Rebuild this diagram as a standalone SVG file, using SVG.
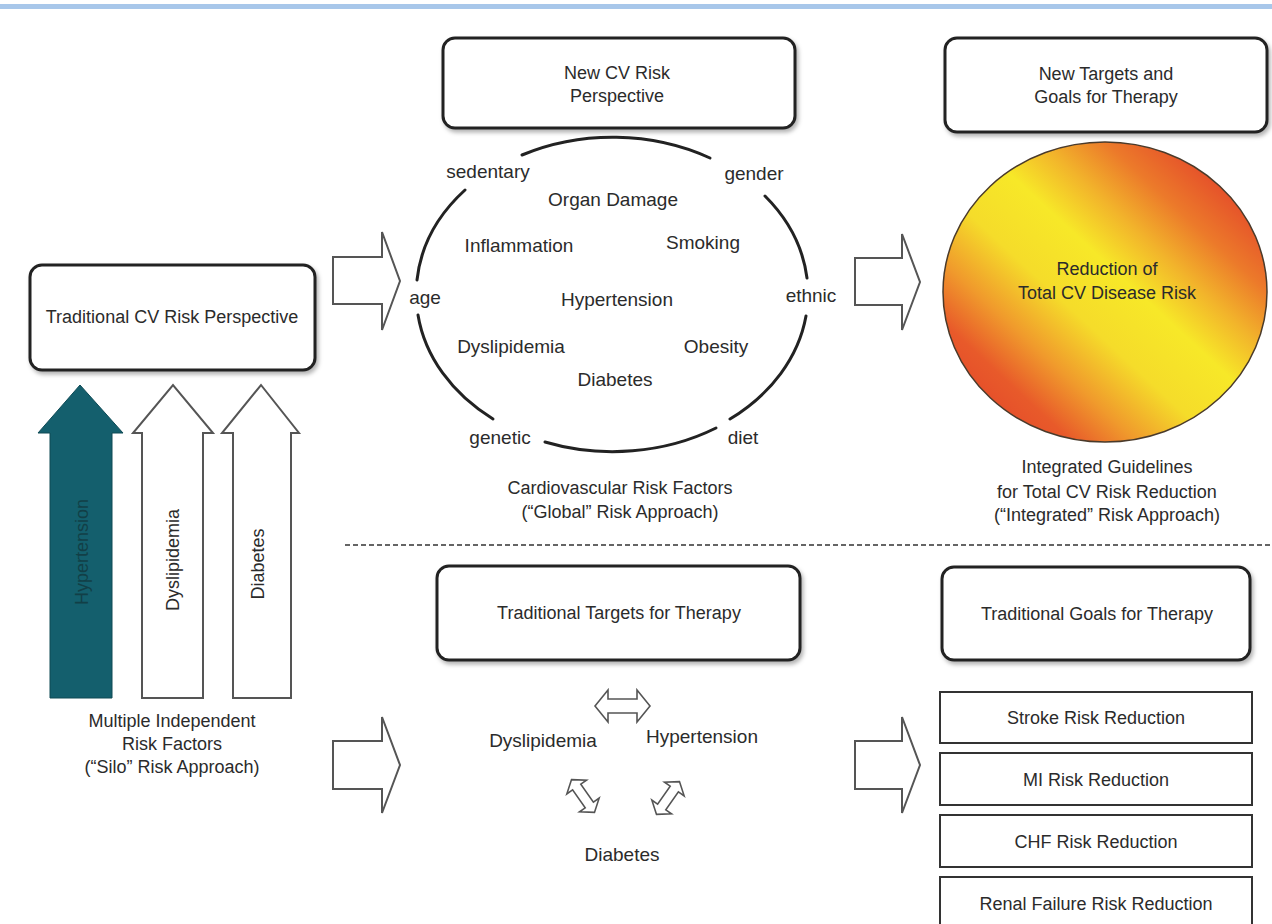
<svg xmlns="http://www.w3.org/2000/svg" width="1272" height="924" viewBox="0 0 1272 924">
<style>
text{font-family:"Liberation Sans",Arial,sans-serif;fill:#2b2b2b;font-size:18px;text-anchor:middle}
.big{font-size:19px}
.rbox{fill:#fff;stroke:#222;stroke-width:3;filter:url(#sh)}
.sbox{fill:#fff;stroke:#333;stroke-width:2}
.blk{fill:#fff;stroke:#555;stroke-width:2;stroke-linejoin:miter}
.arc{fill:none;stroke:#222;stroke-width:3;stroke-linecap:round}
.sm{fill:#fff;stroke:#555;stroke-width:1.6}
</style>
<defs>
<filter id="sh" x="-10%" y="-10%" width="130%" height="140%">
<feDropShadow dx="2" dy="3" stdDeviation="2" flood-color="#000" flood-opacity="0.3"/>
</filter>
<linearGradient id="g" x1="0" y1="1" x2="1" y2="0">
<stop offset="0" stop-color="#e0382a"/>
<stop offset="0.2" stop-color="#e85a2a"/>
<stop offset="0.3" stop-color="#f09a2c"/>
<stop offset="0.42" stop-color="#f5dc2a"/>
<stop offset="0.55" stop-color="#f7e828"/>
<stop offset="0.65" stop-color="#f2b42b"/>
<stop offset="0.75" stop-color="#ec7a2a"/>
<stop offset="0.86" stop-color="#e5502a"/>
<stop offset="1" stop-color="#e0402a"/>
</linearGradient>
<path id="dbl" d="M-20,0 L-11,-12 V-5 H11 V-12 L20,0 L11,12 V5 H-11 V12 Z"/>
</defs>
<rect x="0" y="0" width="1272" height="924" fill="#fff"/>
<rect x="0" y="4" width="1272" height="5" fill="#a8c7ea"/>
<line x1="345" y1="545" x2="1272" y2="545" stroke="#333" stroke-width="1.5" stroke-dasharray="5,3"/>

<g id="connectors">
<path class="blk" d="M333,257 H382 V232 L400,281 L382,330 V304 H333 Z"/>
<path class="blk" d="M855,258 H902 V234 L920,282 L902,330 V305 H855 Z"/>
<path class="blk" d="M333,741 H382 V717 L400,765 L382,813 V789 H333 Z"/>
<path class="blk" d="M855,741 H902 V717 L920,765 L902,813 V789 H855 Z"/>
<path class="sm" d="M595,706 L608,690 V699 H637 V690 L650,706 L637,722 V713 H608 V722 Z"/>
<use href="#dbl" class="sm" transform="translate(583,796) rotate(55)"/>
<use href="#dbl" class="sm" transform="translate(668,798) rotate(-55)"/>
</g>

<g id="traditional-perspective">
<rect class="rbox" x="30" y="265" width="285" height="105" rx="12"/>
<text x="172" y="323">Traditional CV Risk Perspective</text>
</g>

<g id="silo-arrows">
<path d="M50,698 V433 H38 L80,385 L123,433 H112 V698 Z" fill="#145f6d" stroke="#0e4a55" stroke-width="1"/>
<path class="blk" d="M142,698 V433 H133 L173,385 L213,433 H203 V698 Z"/>
<path class="blk" d="M233,698 V433 H222 L261,385 L299,433 H291 V698 Z"/>
<text transform="translate(88,552) rotate(-90)" style="fill:#123f47">Hypertension</text>
<text transform="translate(179,560) rotate(-90)">Dyslipidemia</text>
<text transform="translate(264,564) rotate(-90)">Diabetes</text>
<text x="172" y="727">Multiple Independent</text>
<text x="172" y="750">Risk Factors</text>
<text x="172" y="773">(“Silo” Risk Approach)</text>
</g>

<g id="new-perspective">
<rect class="rbox" x="443" y="38" width="352" height="90" rx="12"/>
<text x="617" y="79">New CV Risk</text>
<text x="617" y="102">Perspective</text>
</g>

<g id="global-factors">
<path class="arc" d="M522,155 A196,157 0 0 1 710,158"/>
<path class="arc" d="M765,196 A196,157 0 0 1 807,278"/>
<path class="arc" d="M806,316 A196,157 0 0 1 730,419"/>
<path class="arc" d="M716,428 A196,157 0 0 1 545,442"/>
<path class="arc" d="M493,419 A196,157 0 0 1 418,315"/>
<path class="arc" d="M417,280 A196,157 0 0 1 465,190"/>
<text class="big" x="488" y="178">sedentary</text>
<text class="big" x="754" y="180">gender</text>
<text class="big" x="613" y="206">Organ Damage</text>
<text class="big" x="519" y="252">Inflammation</text>
<text class="big" x="703" y="249">Smoking</text>
<text class="big" x="425" y="304">age</text>
<text class="big" x="811" y="302">ethnic</text>
<text class="big" x="617" y="306">Hypertension</text>
<text class="big" x="511" y="353">Dyslipidemia</text>
<text class="big" x="716" y="353">Obesity</text>
<text class="big" x="615" y="386">Diabetes</text>
<text class="big" x="500" y="444">genetic</text>
<text class="big" x="743" y="444">diet</text>
<text x="620" y="494">Cardiovascular Risk Factors</text>
<text x="620" y="518">(“Global” Risk Approach)</text>
</g>

<g id="new-targets">
<rect class="rbox" x="945" y="38" width="322" height="94" rx="12"/>
<text x="1106" y="80">New Targets and</text>
<text x="1106" y="103">Goals for Therapy</text>
</g>

<g id="total-risk">
<ellipse cx="1105" cy="292" rx="162" ry="150" fill="url(#g)" stroke="#4a3a2a" stroke-width="1.5"/>
<text x="1107" y="275">Reduction of</text>
<text x="1107" y="299">Total CV Disease Risk</text>
<text x="1107" y="473">Integrated Guidelines</text>
<text x="1107" y="498">for Total CV Risk Reduction</text>
<text x="1107" y="521">(“Integrated” Risk Approach)</text>
</g>

<g id="traditional-targets">
<rect class="rbox" x="437" y="566" width="363" height="94" rx="12"/>
<text x="619" y="619">Traditional Targets for Therapy</text>
</g>

<g id="target-factors">
<text class="big" x="543" y="747">Dyslipidemia</text>
<text class="big" x="702" y="743">Hypertension</text>
<text class="big" x="622" y="861">Diabetes</text>
</g>

<g id="traditional-goals">
<rect class="rbox" x="942" y="567" width="308" height="93" rx="12"/>
<text x="1097" y="620">Traditional Goals for Therapy</text>
</g>

<g id="goal-stroke">
<rect class="sbox" x="940" y="692" width="312" height="51"/>
<text x="1096" y="724">Stroke Risk Reduction</text>
</g>
<g id="goal-mi">
<rect class="sbox" x="940" y="753" width="312" height="52"/>
<text x="1096" y="786">MI Risk Reduction</text>
</g>
<g id="goal-chf">
<rect class="sbox" x="940" y="815" width="312" height="52"/>
<text x="1096" y="848">CHF Risk Reduction</text>
</g>
<g id="goal-renal">
<rect class="sbox" x="940" y="877" width="312" height="60"/>
<text x="1096" y="910">Renal Failure Risk Reduction</text>
</g>
</svg>
